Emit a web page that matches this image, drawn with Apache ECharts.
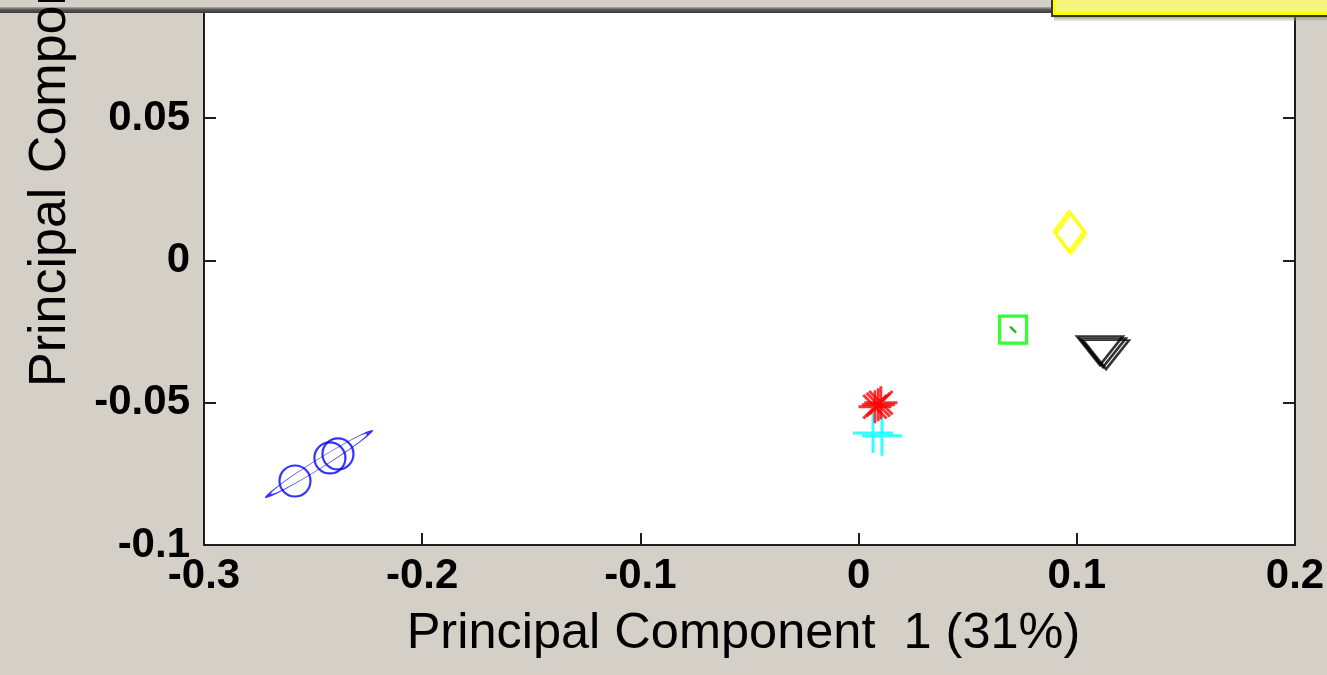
<!DOCTYPE html>
<html>
<head>
<meta charset="utf-8">
<script src="https://cdn.jsdelivr.net/npm/echarts@6/dist/echarts.min.js"></script>
<style>
html,body{margin:0;padding:0;background:#d4d0c8;}
#chart{width:1327px;height:675px;}
</style>
</head>
<body>
<div id="chart"></div>
<script>
// ---- data ----
const xAxisName = 'Principal Component  1 (31%)';
const yAxisName = 'Principal Component  2';
const xRange = [-0.3, 0.2];
const yRange = [-0.1, 0.1];
const xStep = 0.1;
const yStep = 0.05;

const blueCircles    = [[-0.2583, -0.0775], [-0.2423, -0.0694], [-0.2386, -0.0680]];
const blueEllipse    = [[-0.2473, -0.0715]];
const cyanPlus       = [[0.0066, -0.0606], [0.0107, -0.0616]];
const redStars       = [[0.0075, -0.0514], [0.0102, -0.0500], [0.0090, -0.0507]];
const greenSquares   = [[0.0708, -0.0243]];
const greenDash      = [[0.0708, -0.0243]];
const blackTriangles = [[0.1106, -0.0317], [0.1120, -0.0324], [0.1134, -0.0331]];
const yellowDiamonds = [[0.0964, 0.0102], [0.0973, 0.0095]];

// ---- chart ----
const FONT = "'Liberation Sans', Arial, sans-serif";
const chart = echarts.init(document.getElementById('chart'), null, {renderer: 'canvas'});

function fmt(v) {
  const r = Math.round(v * 100) / 100;
  return r === 0 ? '0' : String(r);
}
const axisLineStyle = {color: '#1e1e1e', width: 2};
const tickStyle = {show: true, inside: true, length: 12, lineStyle: {color: '#1e1e1e', width: 2}};
const labelStyle = {color: '#000', fontFamily: FONT, fontWeight: 'bold', fontSize: 42};

const PLUS = 'path://M0,5L10,5M5,0L5,10';
const STAR = 'path://M5,0L5,10M0,5L10,5M1.46,1.46L8.54,8.54M8.54,1.46L1.46,8.54';
const TRI_DOWN = 'path://M0,0L10,0L5,8.66Z';
const DASH = 'path://M0,0L10,10';

function sc(name, data, symbol, size, color, width, extra) {
  return Object.assign({
    type: 'scatter', name, data, symbol, symbolSize: size,
    itemStyle: {color: 'transparent', borderColor: color, borderWidth: width},
    emphasis: {disabled: true}, silent: true, animation: false
  }, extra || {});
}

chart.setOption({
  backgroundColor: '#d4d0c8',
  animation: false,
  grid: {
    left: 204, right: 32, top: -24, bottom: 130,
    show: true, backgroundColor: '#ffffff', borderWidth: 0,
    outerBoundsMode: 'none'
  },
  xAxis: {
    type: 'value', min: xRange[0], max: xRange[1], interval: xStep,
    axisLine: {show: true, onZero: false, lineStyle: axisLineStyle},
    axisTick: tickStyle,
    splitLine: {show: false},
    axisLabel: Object.assign({margin: 10, formatter: fmt}, labelStyle),
    name: xAxisName, nameLocation: 'middle', nameGap: 64,
    nameTextStyle: {color: '#000', fontFamily: FONT, fontSize: 50.5, padding: [0, 12, 0, 0]}
  },
  yAxis: [{
    type: 'value', min: yRange[0], max: yRange[1], interval: yStep, position: 'left',
    axisLine: {show: true, onZero: false, lineStyle: axisLineStyle},
    axisTick: tickStyle,
    splitLine: {show: false},
    axisLabel: Object.assign({margin: 14, formatter: fmt}, labelStyle)
  }, {
    type: 'value', min: yRange[0], max: yRange[1], interval: yStep, position: 'right',
    axisLine: {show: true, onZero: false, lineStyle: axisLineStyle},
    axisTick: tickStyle,
    splitLine: {show: false},
    axisLabel: {show: false}
  }],
  series: [
    sc('ellipse', blueEllipse, 'circle', [120, 9], '#0000ff', 2, {symbolRotate: 32}),
    sc('circles', blueCircles, 'circle', 31, '#0000ff', 2.2),
    sc('plus', cyanPlus, PLUS, 40, '#00ffff', 3),
    sc('stars', redStars, STAR, 33, '#ff0000', 2.8),
    sc('squares', greenSquares, 'rect', 27, '#00ff00', 3.2),
    sc('dash', greenDash, DASH, 6, '#00a000', 2.5),
    sc('triangles', blackTriangles, TRI_DOWN, [46, 29], '#000000', 2.4),
    sc('diamonds', yellowDiamonds, 'diamond', [30, 40], '#ffff00', 3)
  ],
  graphic: [
    {type: 'rect', z: 100, shape: {x: 0, y: 0, width: 1327, height: 8}, style: {fill: '#d4d0c8'}},
    {type: 'rect', z: 100, shape: {x: 0, y: 7, width: 1327, height: 6},
      style: {fill: new echarts.graphic.LinearGradient(0, 0, 0, 1, [
        {offset: 0, color: '#b0aea8'}, {offset: 0.4, color: '#5a5a5a'}, {offset: 1, color: '#3a3a3a'}])}},
    {type: 'rect', z: 101, shape: {x: 1054, y: 14, width: 280, height: 7},
      style: {fill: new echarts.graphic.LinearGradient(0, 0, 0, 1, [
        {offset: 0, color: '#6a6a60'}, {offset: 1, color: 'rgba(160,160,150,0.2)'}])}},
    {type: 'rect', z: 102, shape: {x: 1051, y: -5, width: 290, height: 22}, style: {fill: '#3a3a10'}},
    {type: 'rect', z: 103, shape: {x: 1053, y: -5, width: 290, height: 20}, style: {fill: '#ffff00'}},
    {type: 'rect', z: 104, shape: {x: 1056, y: -5, width: 290, height: 17}, style: {fill: '#f6f67c'}},
    {type: 'text', z: 100, x: 51, y: 387, rotation: Math.PI / 2,
      style: {text: yAxisName, fill: '#000', font: '52px ' + FONT, textAlign: 'left', textVerticalAlign: 'middle'}}
  ]
});
</script>
</body>
</html>
